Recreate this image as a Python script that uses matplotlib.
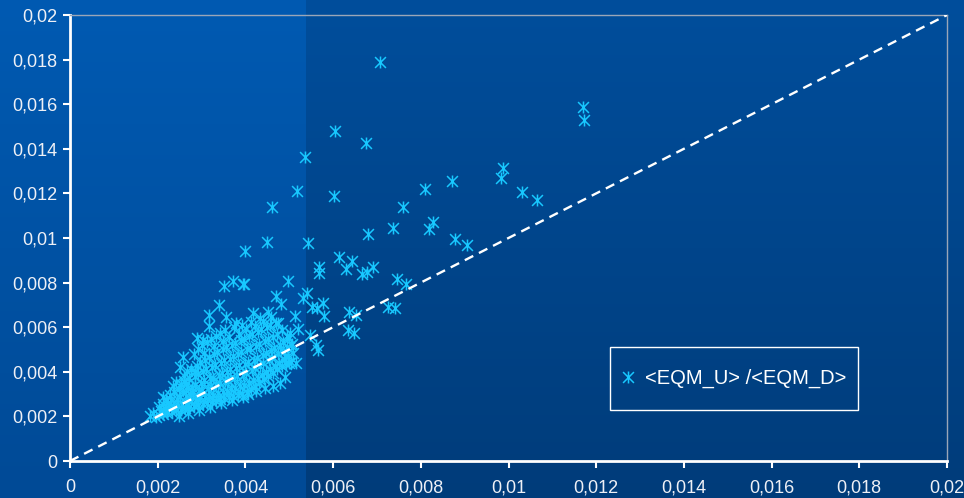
import numpy as np
import matplotlib
matplotlib.use("Agg")
import matplotlib.pyplot as plt
from matplotlib.path import Path
from matplotlib.patches import Rectangle

plt.rcParams['font.family'] = ['Liberation Sans', 'DejaVu Sans']

# <EQM_D> (x) and <EQM_U> (y), in units of 1e-3
eqm_d_outer = [7.07, 11.70, 11.72, 6.04, 5.36, 6.75, 5.18, 6.02, 4.61, 9.87, 9.83,
               8.71, 8.10, 10.31, 10.65, 7.59, 7.37, 6.80, 8.28, 8.19, 8.78, 9.05,
               4.49, 5.43, 3.99, 6.13, 6.43, 5.68, 5.68, 6.29, 6.66, 6.77, 6.91,
               7.46, 7.66, 3.97, 4.97, 5.40, 5.31, 4.70, 4.81, 5.52, 5.63, 5.77,
               5.79, 5.13, 6.36, 6.52, 4.17, 4.52, 7.25, 7.41, 5.47, 5.66, 5.60,
               6.34, 6.48, 5.02, 5.00, 5.15, 4.90, 5.05, 4.95, 5.20,
               3.51, 3.72, 3.95, 3.40, 3.17, 3.17, 3.56, 3.79, 2.90, 3.03, 2.58,
               2.51, 2.12, 1.89, 1.82, 1.95]
eqm_u_outer = [17.89, 15.87, 15.29, 14.80, 13.63, 14.26, 12.11, 11.88, 11.39, 13.14, 12.69,
               12.56, 12.20, 12.06, 11.70, 11.39, 10.45, 10.18, 10.72, 10.40, 9.96, 9.69,
               9.82, 9.78, 9.42, 9.15, 8.97, 8.70, 8.43, 8.61, 8.39, 8.48, 8.70,
               8.16, 7.94, 7.94, 8.07, 7.53, 7.31, 7.40, 7.04, 6.91, 6.86, 7.09,
               6.50, 6.50, 6.68, 6.55, 6.64, 6.68, 6.91, 6.86, 5.65, 4.98, 5.20,
               5.87, 5.74, 5.74, 4.40, 4.38, 4.70, 5.20, 5.60, 5.90,
               7.85, 8.07, 7.94, 7.00, 6.55, 6.05, 6.46, 6.19, 5.52, 5.43, 4.66,
               4.22, 2.87, 2.15, 2.02, 1.98]

eqm_d_core = [2.02, 2.07, 2.04, 2.11, 2.16, 2.13, 2.18, 2.21, 2.26, 2.23, 2.28,
              2.32, 2.36, 2.31, 2.38, 2.34, 2.41, 2.47, 2.44, 2.49, 2.42,
              2.53, 2.56, 2.51, 2.58, 2.54, 2.59, 2.62, 2.67, 2.64, 2.69, 2.61, 2.66,
              2.71, 2.76, 2.73, 2.78, 2.72, 2.77, 2.83, 2.87, 2.81, 2.86, 2.84, 2.89, 2.82,
              2.92, 2.97, 2.94, 2.99, 2.91, 2.96, 2.93, 3.03, 3.08, 3.01, 3.06, 3.04, 3.09, 3.02,
              3.12, 3.17, 3.14, 3.19, 3.11, 3.16, 3.13, 3.23, 3.27, 3.21, 3.26, 3.24, 3.29, 3.22,
              3.32, 3.37, 3.34, 3.39, 3.31, 3.36, 3.33, 3.43, 3.48, 3.41, 3.46, 3.44, 3.49, 3.42,
              3.52, 3.57, 3.54, 3.59, 3.51, 3.56, 3.53, 3.63, 3.67, 3.61, 3.66, 3.64, 3.69,
              3.72, 3.77, 3.74, 3.79, 3.71, 3.76, 3.73, 3.83, 3.88, 3.81, 3.86, 3.84, 3.89,
              3.92, 3.97, 3.94, 3.99, 3.91, 3.96, 3.93, 4.03, 4.08, 4.01, 4.06, 4.04, 4.09,
              4.12, 4.17, 4.14, 4.19, 4.11, 4.16, 4.13, 4.23, 4.28, 4.21, 4.26, 4.24, 4.29,
              4.32, 4.37, 4.34, 4.39, 4.31, 4.36, 4.33, 4.43, 4.48, 4.41, 4.46, 4.44, 4.49,
              4.52, 4.57, 4.54, 4.59, 4.51, 4.56, 4.63, 4.68, 4.61, 4.66, 4.64, 4.69,
              4.72, 4.77, 4.74, 4.79, 4.71, 4.83, 4.88, 4.81, 4.86, 4.84,
              4.92, 4.97, 4.94, 4.99, 5.03, 5.08, 5.06,
              4.05, 4.25, 4.45, 4.62, 4.78, 4.90, 2.48, 2.70, 2.95, 3.20, 3.45, 3.70, 3.95,
              3.05, 3.28, 3.48, 3.62, 3.85, 4.02, 4.22, 4.40, 4.58, 4.75, 2.85, 2.65]
eqm_u_core = [2.05, 2.25, 2.42, 2.12, 2.31, 2.56, 2.78, 2.16, 2.37, 2.62, 2.98,
              2.21, 2.46, 2.72, 3.08, 3.36, 2.27, 2.52, 2.79, 3.21, 3.54,
              2.29, 2.57, 2.86, 3.14, 3.47, 3.82, 2.36, 2.61, 2.92, 3.26, 3.58, 4.02,
              2.42, 2.68, 3.01, 3.32, 3.71, 4.13, 2.46, 2.74, 3.07, 3.41, 3.79, 4.28, 4.78,
              2.51, 2.81, 3.14, 3.52, 3.92, 4.44, 5.02, 2.56, 2.86, 3.19, 3.61, 4.02, 4.53, 5.18,
              2.61, 2.91, 3.29, 3.72, 4.11, 4.66, 5.33, 2.66, 2.97, 3.36, 3.74, 4.21, 4.79, 5.48,
              2.71, 3.04, 3.46, 3.86, 4.29, 4.91, 5.62, 2.76, 3.11, 3.49, 3.96, 4.41, 5.02, 5.73,
              2.81, 3.16, 3.57, 4.01, 4.52, 5.11, 5.86, 2.86, 3.21, 3.64, 4.12, 4.58, 5.22,
              2.91, 3.29, 3.71, 4.19, 4.72, 5.31, 6.02, 2.97, 3.36, 3.79, 4.31, 4.79, 5.41,
              3.02, 3.41, 3.86, 4.36, 4.91, 5.49, 6.11, 3.11, 3.52, 3.94, 4.46, 5.01, 5.62,
              3.21, 3.61, 4.06, 4.54, 5.06, 5.71, 6.22, 3.36, 3.74, 4.16, 4.64, 5.16, 5.79,
              3.51, 3.86, 4.26, 4.76, 5.24, 5.91, 6.41, 3.66, 4.01, 4.39, 4.86, 5.36, 6.01,
              3.81, 4.11, 4.51, 4.96, 5.46, 6.09, 3.96, 4.26, 4.64, 5.06, 5.56, 6.21,
              4.11, 4.41, 4.79, 5.21, 5.69, 4.24, 4.56, 4.96, 5.34, 5.86,
              4.36, 4.71, 5.09, 5.51, 4.46, 4.86, 5.26,
              3.00, 3.12, 3.28, 3.38, 3.52, 3.75, 2.02, 2.15, 2.28, 2.42, 2.58, 2.72, 2.88,
              4.85, 5.15, 5.40, 5.55, 5.70, 5.90, 6.05, 6.30, 6.45, 6.20, 4.05, 3.45]

x_ticks = [0, 0.002, 0.004, 0.006, 0.008, 0.01, 0.012, 0.014, 0.016, 0.018, 0.02]
tick_labels = ['0', '0,002', '0,004', '0,006', '0,008', '0,01', '0,012', '0,014', '0,016', '0,018', '0,02']
series_name = '<EQM_U> /<EQM_D>'

eqm_d = np.array(eqm_d_outer + eqm_d_core) * 1e-3
eqm_u = np.array(eqm_u_outer + eqm_u_core) * 1e-3

# asterisk marker: an X with a vertical bar
star = Path([(-1, -1), (1, 1), (-1, 1), (1, -1), (0, -1.1), (0, 1.1)],
            [Path.MOVETO, Path.LINETO, Path.MOVETO, Path.LINETO, Path.MOVETO, Path.LINETO])

W, H = 964, 498
fig = plt.figure(figsize=(W / 100, H / 100), dpi=100)

# background: lighter band on the left, darker on the right, both fading downward
bg = fig.add_axes([0, 0, 1, 1], zorder=-10)
t = np.linspace(0, 1, H)[:, None]
left_top, left_bot = np.array([0, 90, 178]), np.array([0, 74, 150])
right_top, right_bot = np.array([0, 78, 156]), np.array([0, 60, 122])
img = np.zeros((H, W, 3))
split = 306
img[:, :split] = (left_top + (left_bot - left_top) * t)[:, None, :]
img[:, split:] = (right_top + (right_bot - right_top) * t)[:, None, :]
bg.imshow(img / 255, aspect='auto', extent=[0, 1, 0, 1])
bg.axis('off')

ax = fig.add_axes([70 / W, 37 / H, 877 / W, 446 / H])
ax.set_facecolor('none')
ax.set_xlim(0, 0.02)
ax.set_ylim(0, 0.02)

cyan = '#18c8ff'
ax.plot(eqm_d, eqm_u, linestyle='none', marker=star, markersize=8.6,
        markeredgewidth=1.1, color=cyan, markeredgecolor=cyan, zorder=3,
        clip_on=False, label=series_name)
ax.plot([0, 0.02], [0, 0.02], color='white', lw=1.7, linestyle=(0, (4, 2.7)), zorder=4)

ax.set_xticks(x_ticks)
ax.set_xticklabels(tick_labels)
ax.set_yticks(x_ticks)
ax.set_yticklabels(tick_labels)
ax.tick_params(axis='both', colors='white', labelcolor='#eef0f6', labelsize=13,
               direction='out', length=5, width=1.5)
ax.tick_params(axis='x', pad=8)
ax.tick_params(axis='y', pad=4)

for side in ('left', 'bottom'):
    ax.spines[side].set_color('white')
    ax.spines[side].set_linewidth(2)
for side in ('top', 'right'):
    ax.spines[side].set_color('#9aa6b8')
    ax.spines[side].set_linewidth(1)

# legend box
fig.patches.append(Rectangle((610 / W, (H - 410) / H), 248 / W, 63 / H,
                             transform=fig.transFigure, fill=False,
                             edgecolor='white', lw=1))
fig.legend(loc='center left', bbox_to_anchor=(620 / W, (H - 378.5) / H),
           frameon=False, fontsize=14.5, labelcolor='white', handlelength=0.8,
           handletextpad=0.45, borderpad=0, borderaxespad=0, numpoints=1)

fig.savefig('out.png', dpi=100)
